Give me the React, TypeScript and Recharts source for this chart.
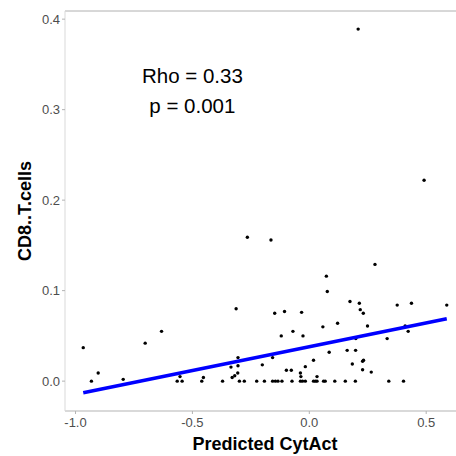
import { Label, ReferenceDot, ReferenceLine, Scatter, ScatterChart, XAxis, YAxis } from "recharts";

// values: predicted CytAct vs CD8..T.cells
const cytAct = [
  -0.967, -0.932, -0.903, -0.796, -0.702, -0.632, -0.565, -0.544, -0.553, -0.46, -0.453,
  -0.371, -0.335, -0.33, -0.319, -0.313, -0.305, -0.305, -0.306, -0.299, -0.278, -0.265,
  -0.225, -0.201, -0.192, -0.164, -0.157, -0.157, -0.148, -0.145, -0.134, -0.12, -0.117,
  -0.106, -0.098, -0.077, -0.074, -0.07, -0.038, -0.038, -0.036, -0.033, -0.029, -0.027,
  -0.017, -0.017, 0.018, 0.018, 0.026, 0.033, 0.033, 0.058, 0.061, 0.068, 0.073, 0.077,
  0.085, 0.109, 0.121, 0.154, 0.162, 0.174, 0.184, 0.197, 0.198, 0.199, 0.209, 0.214,
  0.218, 0.228, 0.232, 0.228, 0.231, 0.249, 0.265, 0.281, 0.333, 0.34, 0.376, 0.403,
  0.41, 0.423, 0.437, 0.491, 0.588,
];
const cd8 = [
  0.037, 0, 0.009, 0.002, 0.042, 0.055, 0, 0, 0.005, 0, 0.004,
  0, 0.0155, 0.004, 0.006, 0.08, 0.026, 0.017, 0.009, 0, 0, 0.159,
  0, 0.018, 0, 0.156, 0.026, 0, 0.075, 0, 0, 0.05, 0,
  0.077, 0.012, 0.012, 0, 0.055, 0.009, 0, 0.005, 0.076, 0, 0.05,
  0.016, 0, 0.023, 0, 0, 0.005, 0, 0.06, 0, 0, 0.116, 0.099,
  0.032, 0, 0.064, 0, 0.034, 0.088, 0.019, 0, 0.034, 0.047, 0.389, 0.086,
  0.079, 0.022, 0.023, 0.0125, 0.075, 0.061, 0.01, 0.129, 0.047, 0, 0.084, 0,
  0.061, 0.055, 0.086, 0.222, 0.084,
];

// endpoints of the fitted line
const fitX = [-0.967, 0.588];
const fitY = [-0.0128, 0.069];

const xTicks = [-1, -0.5, 0, 0.5];
const yTicks = [0, 0.1, 0.2, 0.3, 0.4];
const xDomain = [-1.045, 0.666];
const yDomain = [-0.033, 0.409];

const statLines = ["Rho = 0.33", "p = 0.001"];

const points = cytAct.map((x, i) => ({ x, y: cd8[i] }));
const fit = fitX.map((x, i) => ({ x, y: fitY[i] }));

const font = "'Liberation Sans', Arial, sans-serif";
const tickStyle = { fill: "#4d4d4d", fontSize: 13, fontFamily: font };

const Dot = (props: any) => <circle cx={props.cx} cy={props.cy} r={1.7} fill="#000" />;

const StatText = (props: any) => (
  <g>
    {statLines.map((t, i) => (
      <text
        key={t}
        x={props.cx}
        y={props.cy + i * 30}
        textAnchor="middle"
        fontSize={20.5}
        fontFamily={font}
        fill="#000"
      >
        {t}
      </text>
    ))}
  </g>
);

const YTitle = () => (
  <text
    transform="translate(31,211) rotate(-90)"
    textAnchor="middle"
    fontSize={18}
    fontWeight="bold"
    fontFamily={font}
    fill="#000"
  >
    CD8..T.cells
  </text>
);

export default function App() {
  return (
    <div
      style={{
        position: "absolute",
        left: 0,
        top: 0,
        width: 456,
        height: 456,
        overflow: "hidden",
        background: "#fff",
      }}
    >
      <ScatterChart width={466} height={456} margin={{ top: 11, right: 1, bottom: 0, left: 0 }}>
        <XAxis
          type="number"
          dataKey="x"
          domain={xDomain}
          ticks={xTicks}
          allowDataOverflow
          height={45}
          tickSize={3}
          tickMargin={4}
          tick={tickStyle}
          tickFormatter={(v: number) => v.toFixed(1)}
          stroke="#b3b3b3"
          tickLine={{ stroke: "#b3b3b3" }}
        >
          <Label
            value="Predicted CytAct"
            position="insideBottom"
            offset={6}
            style={{ fontSize: 18, fontWeight: "bold", fontFamily: font, fill: "#000" }}
          />
        </XAxis>
        <YAxis
          type="number"
          dataKey="y"
          domain={yDomain}
          ticks={yTicks}
          allowDataOverflow
          width={65}
          tickSize={3}
          tickMargin={2}
          tick={tickStyle}
          tickFormatter={(v: number) => v.toFixed(1)}
          stroke="#d9d9d9"
          tickLine={{ stroke: "#b3b3b3" }}
        >
          <Label content={<YTitle />} />
        </YAxis>
        <ReferenceLine y={yDomain[1]} stroke="#b0b0b0" strokeWidth={1} />
        <Scatter data={points} shape={<Dot />} isAnimationActive={false} />
        <Scatter
          data={fit}
          line={{ stroke: "#0000ff", strokeWidth: 3.6 }}
          shape={() => <g />}
          isAnimationActive={false}
        />
        <ReferenceDot x={-0.5} y={0.3297} shape={<StatText />} />
      </ScatterChart>
    </div>
  );
}
